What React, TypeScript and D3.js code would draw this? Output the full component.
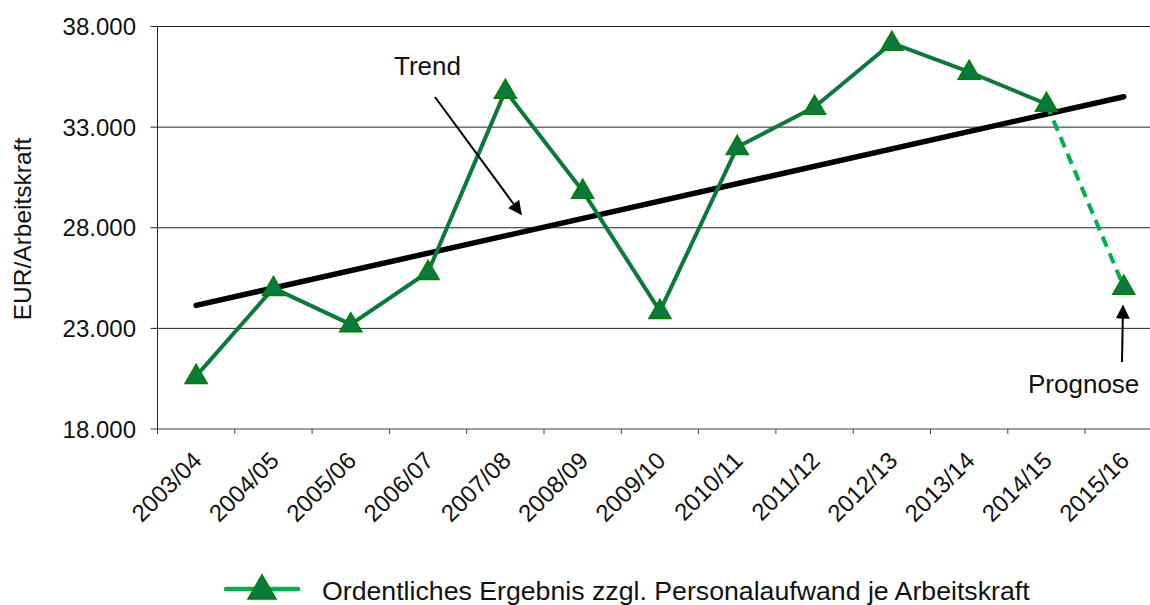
import * as d3 from "d3";
import React from "react";

// Wirtschaftsjahre
const years = [
  "2003/04", "2004/05", "2005/06", "2006/07", "2007/08", "2008/09", "2009/10",
  "2010/11", "2011/12", "2012/13", "2013/14", "2014/15", "2015/16",
];
// Ordentliches Ergebnis zzgl. Personalaufwand je AK (letzter Wert = Prognose)
const values = [
  20630, 25000, 23200, 25800, 34800, 29830, 23860, 32010, 34000, 37180, 35740,
  34150, 25060,
];
const yTicks = [18000, 23000, 28000, 33000, 38000];
const seriesName = "Ordentliches Ergebnis zzgl. Personalaufwand je Arbeitskraft";
const yTitle = "EUR/Arbeitskraft";

const W = 1150;
const H = 605;
const FONT = "'Liberation Sans', Arial, sans-serif";
const DARK = "#0a7a3c";
const LIGHT = "#00b050";

const de = d3.formatLocale({ decimal: ",", thousands: ".", grouping: [3], currency: ["", " €"] });
const fmt = de.format(",.3~f");

export default function App() {
  const left = 157.5;
  const band = 77.3;
  const x = d3
    .scaleBand()
    .domain(years)
    .range([left, left + band * years.length])
    .paddingInner(0)
    .paddingOuter(0);
  const y = d3.scaleLinear().domain([18000, 38000]).range([429, 26.5]);
  const cx = (i) => x(years[i]) + x.bandwidth() / 2;

  // lineare Trendlinie über alle Jahre
  const n = values.length;
  const mx = d3.mean(values.map((_, i) => i));
  const my = d3.mean(values);
  const slope =
    d3.sum(values.map((v, i) => (i - mx) * (v - my))) /
    d3.sum(values.map((_, i) => (i - mx) * (i - mx)));
  const icpt = my - slope * mx;

  const line = d3
    .line()
    .x((d) => cx(d[0]))
    .y((d) => y(d[1]));
  const solid = values.slice(0, n - 1).map((v, i) => [i, v]);
  const dashed = [
    [n - 2, values[n - 2]],
    [n - 1, values[n - 1]],
  ];
  const tri = d3.symbol(d3.symbolTriangle, 210)();
  const triLegend = d3.symbol(d3.symbolTriangle, 340)();

  const xEnd = x.range()[1];

  return (
    <svg
      width={W}
      height={H}
      style={{ position: "absolute", left: 0, top: 0, background: "#fff" }}
      fontFamily={FONT}
    >
      <defs>
        <marker id="ah" viewBox="0 0 10 10" refX="9" refY="5" markerWidth="7" markerHeight="7" orient="auto">
          <path d="M0,0 L10,5 L0,10 z" fill="#000" />
        </marker>
      </defs>
      <rect width={W} height={H} fill="#fff" />

      {/* Gitterlinien und y-Achse */}
      {yTicks.map((t) => (
        <g key={t}>
          <line x1={left - 7} x2={xEnd} y1={y(t)} y2={y(t)} stroke={t === 18000 ? "#404040" : "#222"} strokeWidth={1} />
          <text x={136} y={y(t)} dy="0.36em" textAnchor="end" fontSize={24} fill="#111">
            {fmt(t)}
          </text>
        </g>
      ))}
      <line x1={left} x2={left} y1={y(38000)} y2={y(18000) + 4} stroke="#222" />
      <text
        transform={`translate(31, ${229}) rotate(-90)`}
        textAnchor="middle"
        fontSize={24.5}
        fill="#111"
      >
        {yTitle}
      </text>

      {/* x-Achse */}
      {years.map((yr, i) => (
        <g key={yr}>
          <line x1={x(yr)} x2={x(yr)} y1={y(18000)} y2={y(18000) + 5} stroke="#404040" />
          <text
            transform={`translate(${cx(i) + 7}, 462) rotate(-45)`}
            textAnchor="end"
            fontSize={24}
            fill="#111"
          >
            {yr}
          </text>
        </g>
      ))}

      {/* Trend */}
      <line
        x1={cx(0)}
        y1={y(icpt)}
        x2={cx(n - 1)}
        y2={y(icpt + slope * (n - 1))}
        stroke="#000"
        strokeWidth={5.5}
        strokeLinecap="round"
      />

      {/* Datenreihe */}
      <path d={line(dashed)} fill="none" stroke={LIGHT} strokeWidth={4} strokeDasharray="11 7" />
      <path d={line(solid)} fill="none" stroke={DARK} strokeWidth={4} strokeLinejoin="round" />
      {values.map((v, i) => (
        <path
          key={i}
          d={tri}
          transform={`translate(${cx(i)}, ${y(v) + 1})`}
          fill={DARK}
          stroke="#008000"
          strokeWidth={1.5}
        />
      ))}

      {/* Anmerkungen */}
      <text x={394} y={75} fontSize={26} fill="#111">Trend</text>
      <line x1={435} y1={97} x2={521} y2={214} stroke="#000" strokeWidth={2} markerEnd="url(#ah)" />
      <text x={1028} y={393} fontSize={26} fill="#111">Prognose</text>
      <line x1={1122} y1={362} x2={1123} y2={306} stroke="#000" strokeWidth={2} markerEnd="url(#ah)" />

      {/* Legende */}
      <line x1={226} x2={298} y1={589} y2={589} stroke={LIGHT} strokeWidth={4.5} strokeLinecap="round" />
      <path d={triLegend} transform="translate(262, 591)" fill={DARK} stroke="#008000" strokeWidth={1.5} />
      <text x={322} y={600} fontSize={26.7} fill="#111">{seriesName}</text>
    </svg>
  );
}
